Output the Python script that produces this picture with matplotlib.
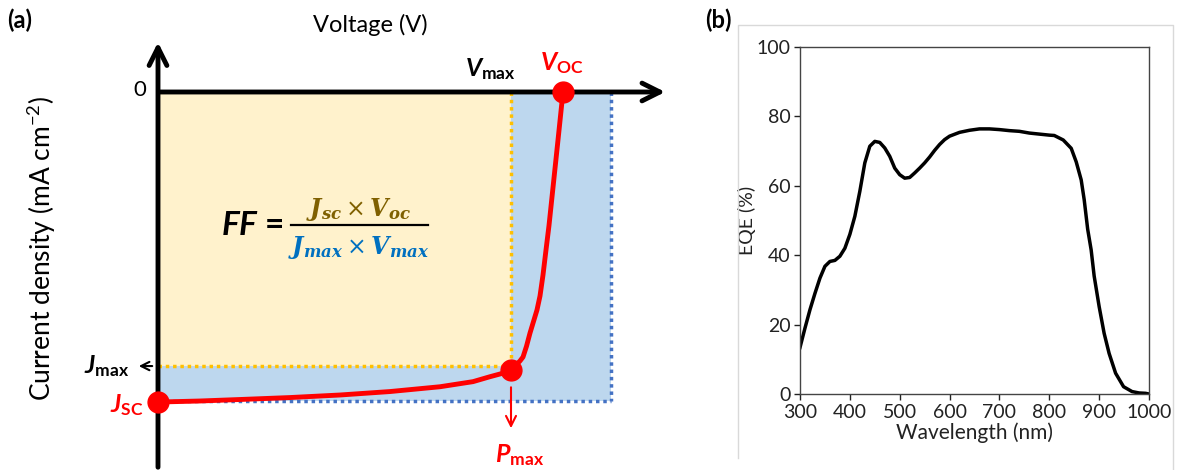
# J-V curve schematic (fill factor) and EQE spectrum

import numpy as np
import matplotlib
matplotlib.use('Agg')
import matplotlib.pyplot as plt
from matplotlib.patches import Rectangle
from matplotlib.lines import Line2D

plt.rcParams['font.family'] = ['Lato', 'DejaVu Sans']
plt.rcParams['mathtext.fontset'] = 'custom'
plt.rcParams['mathtext.rm'] = 'Lato'
plt.rcParams['mathtext.it'] = 'Lato:italic:bold'
plt.rcParams['mathtext.bf'] = 'Lato:bold'

# ---- panel (a) data : J-V curve (V in volts, J in mA cm-2) ----
iv_voltage = [0.0, 0.084, 0.164, 0.264, 0.364, 0.464, 0.564, 0.63, 0.664, 0.684,
              0.694, 0.708, 0.716, 0.724, 0.730, 0.737, 0.744, 0.751, 0.758, 0.764,
              0.770, 0.776, 0.782, 0.788, 0.794, 0.800, 0.805, 0.810]
iv_current = [-20.67, -20.6, -20.5, -20.37, -20.2, -19.97, -19.65, -19.31, -18.98, -18.8,
              -18.7, -18.53, -18.2, -17.93, -17.67, -16.95, -16.07, -15.3, -14.53, -13.6,
              -12.2, -10.53, -8.9, -7.0, -5.1, -3.2, -1.6, 0.0]
j_sc = -20.67
v_oc = 0.810
v_max = 0.706
j_max = -18.27
p_max_j = -18.53
box_v = 0.906
box_j = -20.6

# ---- panel (b) data : EQE spectrum ----
wavelength = [300, 310, 320, 330, 340, 350, 360, 370, 380, 390, 400, 410, 420, 430,
              440, 450, 460, 470, 480, 490, 500, 510, 520, 530, 540, 550, 560, 570,
              580, 590, 600, 620, 640, 660, 680, 700, 720, 740, 760, 780, 800, 810,
              828, 844, 854, 864, 870, 877, 884, 890, 900, 910, 920, 933, 949, 966,
              980, 993, 1000]
eqe = [13.4, 19.0, 24.3, 29.0, 33.4, 36.8, 38.2, 38.5, 39.7, 42.0, 46.0, 51.2, 58.4, 66.6,
       71.4, 72.8, 72.5, 70.9, 68.5, 65.1, 63.2, 62.2, 62.4, 63.7, 65.1, 66.6, 68.3, 70.2,
       71.9, 73.3, 74.3, 75.4, 76.0, 76.4, 76.4, 76.2, 75.9, 75.7, 75.2, 74.9, 74.6, 74.5,
       73.2, 70.8, 66.9, 61.7, 56.0, 47.5, 41.5, 34.0, 25.2, 17.5, 11.7, 6.0, 2.1, 0.7,
       0.3, 0.2, 0.0]
wl_ticks = [300, 400, 500, 600, 700, 800, 900, 1000]
eqe_ticks = [0, 20, 40, 60, 80, 100]

red = '#FF0000'

fig = plt.figure(figsize=(11.79, 4.70), dpi=100)

# ================= panel (a) =================
ax = fig.add_axes([0, 0, 700 / 1179, 1])
ax.set_xlim(-0.316, 1.084)
ax.set_ylim(-25.2, 6.133)
ax.axis('off')

ax.add_patch(Rectangle((0, box_j), box_v, -box_j, facecolor='#BDD7EE', edgecolor='none', zorder=1))
ax.add_patch(Rectangle((0, j_max), v_max, -j_max, facecolor='#FFF2CC', edgecolor='none', zorder=2))

dot = (0, (1, 1.1))
ax.plot([box_v, box_v], [0, box_j], color='#4472C4', lw=2.5, ls=dot, zorder=3)
ax.plot([0, box_v], [box_j, box_j], color='#4472C4', lw=2.5, ls=dot, zorder=3)
ax.plot([v_max, v_max], [0, j_max], color='#FFC000', lw=2.5, ls=dot, zorder=3)
ax.plot([0, v_max], [j_max, j_max], color='#FFC000', lw=2.5, ls=dot, zorder=3)

# axes with arrows
ax.annotate('', xy=(1.02, 0), xytext=(-0.003, 0),
            arrowprops=dict(arrowstyle='->', lw=3.5, color='black', mutation_scale=32), zorder=4)
ax.annotate('', xy=(0, 3.5), xytext=(0, -25.2),
            arrowprops=dict(arrowstyle='->', lw=3.5, color='black', mutation_scale=32), zorder=4)

ax.plot(iv_voltage, iv_current, color=red, lw=3.5, zorder=5,
        solid_capstyle='round', solid_joinstyle='round')
ax.plot([0, v_max, v_oc], [j_sc, p_max_j, 0], 'o', color=red, ms=15, zorder=6)

# small arrows
ax.annotate('', xy=(-0.044, j_max), xytext=(-0.006, j_max),
            arrowprops=dict(arrowstyle='->', lw=1.5, color='black', mutation_scale=15))
ax.annotate('', xy=(v_max, -22.6), xytext=(v_max, -19.5),
            arrowprops=dict(arrowstyle='->', lw=1.5, color=red, mutation_scale=18))

ax.text(0.424, 4.47, 'Voltage (V)', ha='center', va='center', fontsize=17)
ax.text(-0.232, -10.4, 'Current density (mA cm$^{\\mathregular{-2}}$)', rotation=90,
        ha='center', va='center', fontsize=19)
ax.text(-0.036, 0.15, '0', ha='center', va='center', fontsize=16)

ax.text(0.664, 1.5, r'$\mathit{V}_{\mathbf{max}}$', ha='center', va='center', fontsize=18)
ax.text(0.808, 1.9, r'$\mathit{V}_{\mathbf{OC}}$', ha='center', va='center', fontsize=18, color=red)
ax.text(-0.102, -18.3, r'$\mathit{J}_{\mathbf{max}}$', ha='center', va='center', fontsize=18)
ax.text(-0.062, -20.9, r'$\mathit{J}_{\mathbf{SC}}$', ha='center', va='center', fontsize=18, color=red)
ax.text(0.724, -24.2, r'$\mathit{P}_{\mathbf{max}}$', ha='center', va='center', fontsize=18, color=red)

# fill factor formula
ax.text(0.252, -8.87, r'$\mathit{FF}$ =', ha='right', va='center', fontsize=24, fontweight='bold')
ax.plot([0.266, 0.54], [-8.87, -8.87], color='black', lw=1.6)
ax.text(0.401, -7.85, r'$\mathbfit{J_{sc}}\times\mathbfit{V_{oc}}$', ha='center', va='center',
        fontsize=17, color='#7F6000', math_fontfamily='dejavuserif')
ax.text(0.401, -10.35, r'$\mathbfit{J_{max}}\times\mathbfit{V_{max}}$', ha='center', va='center',
        fontsize=17, color='#0070C0', math_fontfamily='dejavuserif')

# ================= panel (b) =================
axb = fig.add_axes([800 / 1179, 76 / 470, 349 / 1179, 347 / 470])
axb.plot(wavelength, eqe, color='black', lw=2.5)
axb.set_xlim(300, 1000)
axb.set_ylim(0, 100)
axb.set_xticks(wl_ticks)
axb.set_yticks(eqe_ticks)
axb.tick_params(direction='out', length=4, width=1, pad=3, labelsize=14, colors='#222222',
                top=False, right=False)
for s in axb.spines.values():
    s.set_color('#444444')
    s.set_linewidth(1.0)
axb.set_xlabel('Wavelength (nm)', fontsize=15, labelpad=1, color='#222222')
axb.set_ylabel('EQE (%)', fontsize=14, color='#222222')
axb.yaxis.set_label_coords(-0.125, 0.5)

# light frame around panel (b)
fig.add_artist(Line2D([738 / 1179, 738 / 1179, 1173 / 1179, 1173 / 1179],
                      [1 - 458 / 470, 1 - 25 / 470, 1 - 25 / 470, 0],
                      color='#d9d9d9', lw=1))

fig.text(7 / 1179, 1 - 20 / 470, '(a)', fontsize=17, fontweight='bold', va='center')
fig.text(705 / 1179, 1 - 20 / 470, '(b)', fontsize=17, fontweight='bold', va='center')

fig.savefig('out.png', dpi=100)
